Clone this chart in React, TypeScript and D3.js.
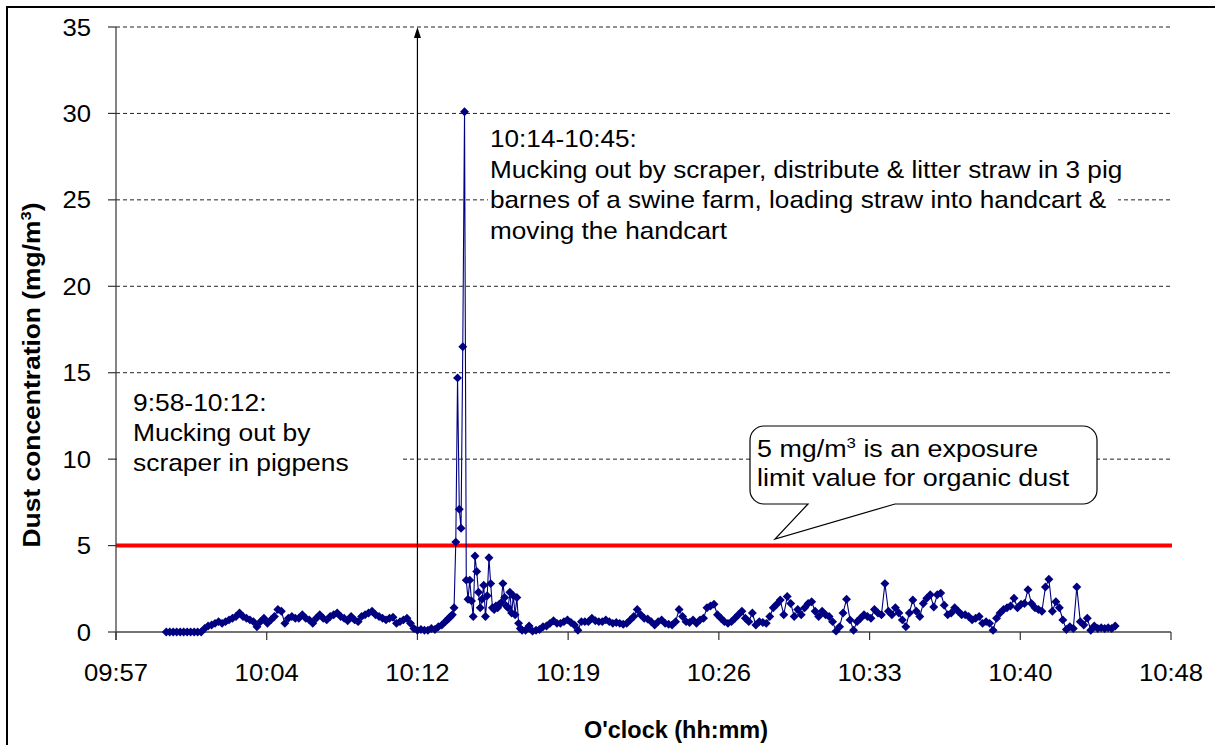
import React from 'react';
import * as d3 from 'd3';

// ---------- data ----------
const yTicks = [0, 5, 10, 15, 20, 25, 30, 35];
const xTickMinutes = [597.6, 604.8, 612, 619.2, 626.4, 633.6, 640.8, 648];
const xTickLabels = ['09:57', '10:04', '10:12', '10:19', '10:26', '10:33', '10:40', '10:48'];
const limitValue = 5;
const arrowMinute = 612;

// segment 1: from 10:00:00, every 10 s
const seg1StartSec = 36000;
const seg1StepSec = 10;
const seg1Values = [
  0, 0, 0, 0, 0, 0, 0, 0, 0, 0,
  0, 0.2, 0.35, 0.4, 0.5, 0.6, 0.5, 0.6, 0.7, 0.8,
  0.9, 1.1, 0.9, 0.8, 0.7, 0.6, 0.3, 0.6, 0.8, 0.5,
  0.7, 0.9, 1.3, 1.2, 0.5, 0.8, 0.9, 0.8, 0.8, 1.0,
  0.8, 0.7, 0.5, 0.8, 1.0, 0.8, 0.7, 0.9, 1.0, 1.1,
  0.9, 0.8, 0.65, 0.9, 0.7, 0.6, 0.9, 1.0, 1.1, 1.2,
  1.0, 0.9, 0.8, 0.7, 0.8, 0.85, 0.5, 0.6, 0.7, 0.8,
  0.5, 0.2, 0.1, 0.15, 0.1, 0.1, 0.2, 0.15, 0.3, 0.4,
];

// segment 2 (peak): from 10:13:20, every 5 s
const seg2StartSec = 36800;
const seg2StepSec = 5;
const seg2Values = [
  0.6, 0.7, 0.8, 0.9, 1.0, 1.4, 5.2, 14.7, 7.1, 6.0,
  16.5, 30.1, 3.0, 1.9, 3.0, 1.8, 0.9, 4.4, 3.5, 2.3,
  1.4, 1.9, 2.7, 0.9, 2.1, 4.3, 2.8, 1.4, 1.3, 1.5,
  1.4, 1.6, 1.7, 2.8, 2.0, 1.5, 1.4, 2.3, 1.1, 2.1,
  1.0, 2.0, 0.5, 0.2, 0.1,
];

// segment 3: from 10:17:10, every 10 s
const seg3StartSec = 37030;
const seg3StepSec = 10;
const seg3Values = [
  0.1, 0.35, 0.05, 0.1, 0.15, 0.3, 0.35, 0.5, 0.65, 0.5,
  0.5, 0.6, 0.7, 0.55, 0.4, 0.1, 0.6, 0.6, 0.6, 0.8,
  0.65, 0.6, 0.6, 0.7, 0.6, 0.5, 0.55, 0.5, 0.45, 0.5,
  0.7, 0.9, 1.3, 1.0, 0.8, 0.75, 0.6, 0.4, 0.6, 0.7,
  0.5, 0.45, 0.4, 0.6, 1.3, 0.9, 0.6, 0.55, 0.7, 0.5,
  0.7, 0.8, 1.4, 1.5, 1.6, 1.0, 0.8, 0.6, 0.5, 0.6,
  0.8, 1.0, 1.2, 0.8, 0.6, 1.1, 0.4, 0.6, 0.55, 0.5,
  0.9, 1.4, 1.6, 1.85, 1.0, 2.05, 1.65, 0.9, 1.3, 1.0,
  1.4, 1.65, 1.75, 1.2, 0.9, 1.2, 1.0, 0.9, 0.6, 0.05,
  0.3, 1.1, 1.9, 0.7, 0.1, 0.6, 0.8, 1.0, 0.9, 0.8,
  1.3, 1.1, 1.0, 2.8, 1.2, 1.0, 1.4, 1.1, 0.7, 0.3,
  1.1, 1.85, 1.2, 0.9, 1.65, 1.95, 2.15, 1.45, 2.15, 2.25,
  1.55, 1.0, 1.1, 1.4, 1.2, 1.0, 1.0, 0.9, 0.7, 0.8,
  0.9, 0.5, 0.6, 0.5, 0.1, 0.8, 1.1, 1.3, 1.4, 1.5,
  1.95, 1.4, 1.6, 1.65, 2.45, 1.65, 1.4, 1.3, 1.2, 2.6,
  3.05, 1.2, 1.75, 1.4, 0.7, 0.15, 0.3, 0.2, 2.6, 0.6,
  0.4, 0.8, 0.1, 0.35, 0.2, 0.25, 0.2, 0.25, 0.2, 0.35,
];

const annot1Lines = ['9:58-10:12:', 'Mucking out by', 'scraper in pigpens'];
const annot2Lines = [
  '10:14-10:45:',
  'Mucking out by scraper, distribute & litter straw in 3 pig',
  'barnes of a swine farm, loading straw into handcart &',
  'moving the handcart',
];
const calloutLine2 = 'limit value for organic dust';

// ---------- helpers ----------
type Pt = { t: number; v: number };
function expand(start: number, step: number, vals: number[]): Pt[] {
  return vals.map((v, i) => ({ t: (start + i * step) / 60, v }));
}
const points: Pt[] = [
  ...expand(seg1StartSec, seg1StepSec, seg1Values),
  ...expand(seg2StartSec, seg2StepSec, seg2Values),
  ...expand(seg3StartSec, seg3StepSec, seg3Values),
];

const FONT = '"Liberation Sans", Arial, Helvetica, sans-serif';

function SText(props: {
  x: number; y: number; anchor?: string; size?: number; sx?: number;
  weight?: string; rotate?: number; children: React.ReactNode;
}) {
  const { x, y, anchor = 'start', size = 24, sx = 1.1, weight = 'normal', rotate } = props;
  const tr = `translate(${x},${y})${rotate !== undefined ? ` rotate(${rotate})` : ''} scale(${sx},1)`;
  return (
    <g transform={tr}>
      <text x={0} y={0} textAnchor={anchor as any} fontSize={size} fontFamily={FONT}
        fontWeight={weight} fill="#000">{props.children}</text>
    </g>
  );
}

export default function App() {
  const W = 1215, H = 745;
  const x0 = 116, x1 = 1171, yTop = 27, yBot = 632;
  const x = d3.scaleLinear().domain([xTickMinutes[0], xTickMinutes[xTickMinutes.length - 1]]).range([x0, x1]);
  const y = d3.scaleLinear().domain([0, 35]).range([yBot, yTop]);

  const line = d3.line<Pt>().x(d => x(d.t)).y(d => y(d.v))(points) || '';
  const diamond = d3.symbol().type(d3.symbolSquare).size(40)() || '';
  const ax = x(arrowMinute);

  return (
    <svg width={W} height={H} style={{ position: 'absolute', left: 0, top: 0, background: '#fff' }}>
      <rect x={0} y={0} width={W} height={H} fill="#fff" />
      <rect x={7} y={7} width={W + 10} height={H + 10} fill="none" stroke="#000" strokeWidth={2} />

      {/* gridlines */}
      {yTicks.filter(v => v > 5).map(v => (
        <line key={'g' + v} x1={x0} x2={x1} y1={y(v)} y2={y(v)} stroke="#222" strokeWidth={1} strokeDasharray="4,3" />
      ))}

      {/* annotation backgrounds */}
      <rect x={x0 + 1} y={382} width={403 - x0 - 1} height={98} fill="#fff" />
      <rect x={488} y={120} width={1118 - 488} height={130} fill="#fff" />

      {/* annotation text */}
      {annot1Lines.map((s, i) => (
        <SText key={'a1' + i} x={133} y={411 + i * 30} size={24} sx={1.1}>{s}</SText>
      ))}
      {annot2Lines.map((s, i) => (
        <SText key={'a2' + i} x={490} y={147 + i * 30.5} size={24} sx={1.09}>{s}</SText>
      ))}

      {/* callout */}
      <path d="M764,426 H1083 A14,14 0 0 1 1097,440 V490 A14,14 0 0 1 1083,504 H895 L775,539 L808,504 H764 A14,14 0 0 1 750,490 V440 A14,14 0 0 1 764,426 Z"
        fill="#fff" stroke="#000" strokeWidth={1.2} />
      <SText x={757} y={457} size={24} sx={1.12}>
        <tspan>5 mg/m</tspan><tspan dy={-9} fontSize={15}>3</tspan><tspan dy={9}> is an exposure</tspan>
      </SText>
      <SText x={757} y={486} size={24} sx={1.12}>{calloutLine2}</SText>

      {/* limit line */}
      <line x1={x0} x2={x1 + 1} y1={y(limitValue)} y2={y(limitValue)} stroke="#ff0000" strokeWidth={4} />

      {/* arrow */}
      <line x1={ax} x2={ax} y1={yBot} y2={yTop + 8} stroke="#000" strokeWidth={1.2} />
      <path d={`M${ax},${yTop} L${ax - 3.5},${yTop + 11} L${ax + 3.5},${yTop + 11} Z`} fill="#000" />

      {/* axes */}
      <line x1={x0} x2={x0} y1={yTop} y2={yBot + 8} stroke="#333" strokeWidth={1.2} />
      <line x1={x0} x2={x1} y1={yBot} y2={yBot} stroke="#444" strokeWidth={1.5} />
      {yTicks.map(v => (
        <line key={'yt' + v} x1={x0 - 8} x2={x0} y1={y(v)} y2={y(v)} stroke="#333" strokeWidth={1.2} />
      ))}
      {xTickMinutes.map(m => (
        <line key={'xt' + m} x1={x(m)} x2={x(m)} y1={yBot} y2={yBot + 8} stroke="#333" strokeWidth={1.2} />
      ))}

      {/* series */}
      <path d={line} fill="none" stroke="#000080" strokeWidth={1.1} />
      {points.map((p, i) => (
        <path key={'m' + i} d={diamond} transform={`translate(${x(p.t)},${y(p.v)}) rotate(45)`} fill="#000080" />
      ))}

      {/* tick labels */}
      {yTicks.map(v => (
        <SText key={'yl' + v} x={91} y={y(v) + 8.5} anchor="end" size={24} sx={1.07}>{String(v)}</SText>
      ))}
      {xTickMinutes.map((m, i) => (
        <SText key={'xl' + m} x={x(m)} y={681} anchor="middle" size={24} sx={1.07}>{xTickLabels[i]}</SText>
      ))}

      {/* axis titles */}
      <SText x={676} y={738} anchor="middle" size={23} sx={1.02} weight="bold">O'clock (hh:mm)</SText>
      <SText x={40} y={375} anchor="middle" size={24} sx={1.1} weight="bold" rotate={-90}>
        <tspan>Dust concentration (mg/m</tspan><tspan dy={-9} fontSize={15}>3</tspan><tspan dy={9}>)</tspan>
      </SText>
    </svg>
  );
}
